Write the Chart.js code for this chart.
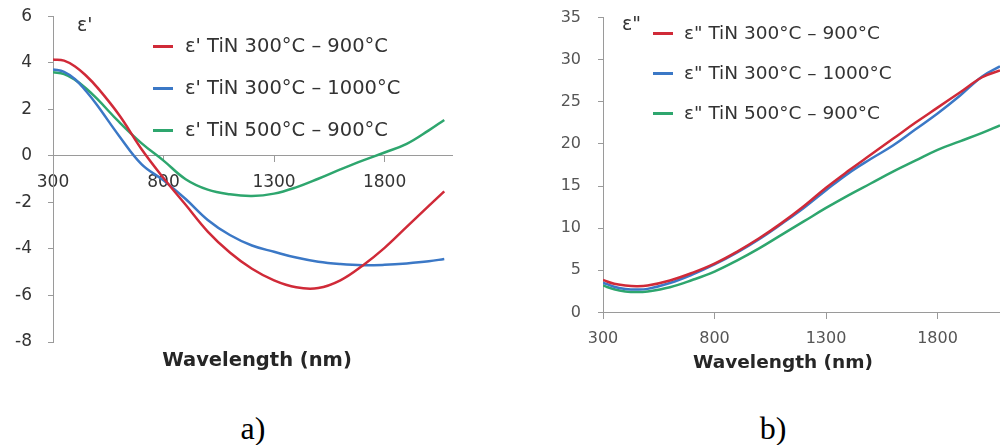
<!DOCTYPE html>
<html>
<head>
<meta charset="utf-8">
<title>TiN permittivity</title>
<script src="https://cdn.jsdelivr.net/npm/chart.js@4.4.0/dist/chart.umd.min.js"></script>
<style>
    html, body { margin: 0; padding: 0; background: #fff; }
    body { width: 1000px; height: 445px; position: relative; overflow: hidden; font-family: 'DejaVu Sans', sans-serif; }
    canvas { position: absolute; top: 0; }
    #chartA { left: 0; }
    #chartB { left: 540px; }
    .label { position: absolute; white-space: nowrap; color: #333; }
    .axis-name { font-size: 19px; line-height: 20px; }
    .x-title { font-weight: bold; line-height: 20px; color: #262626; transform: translateX(-50%); }
    .legend-row { position: absolute; height: 20px; width: 300px; }
    .legend-row .swatch { position: absolute; left: 0; top: 9px; width: 20px; height: 3px; }
    .legend-row .txt { position: absolute; top: 0; line-height: 20px; color: #333; white-space: nowrap; }
    .panel-tag { font-family: 'Liberation Serif', serif; font-size: 32px; line-height: 32px; color: #000; transform: translateX(-50%); }
</style>
</head>
<body>
<canvas id="chartA" width="470" height="370"></canvas>
<canvas id="chartB" width="460" height="370"></canvas>

<div class="label axis-name" style="left:77px; top:14px;">ε'</div>
<div class="label axis-name" style="left:622px; top:13px;">ε"</div>

<div id="legendA"></div>
<div id="legendB"></div>

<div class="label x-title" style="left:257px; top:350px; font-size:19.5px;">Wavelength (nm)</div>
<div class="label x-title" style="left:783px; top:352px; font-size:18.5px;">Wavelength (nm)</div>

<div class="label panel-tag" style="left:253px; top:412px;">a)</div>
<div class="label panel-tag" style="left:773px; top:412px;">b)</div>

<script>
// Data
// a) real part
const wavelengthsA = [300, 350, 400, 450, 500, 600, 700, 800, 900, 1000, 1100, 1200, 1300, 1400, 1500, 1600, 1700, 1800, 1900, 2000, 2070];
const realTiN300_900 = [4.15, 4.1, 3.85, 3.45, 2.95, 1.75, 0.3, -0.95, -2.1, -3.25, -4.15, -4.85, -5.35, -5.65, -5.68, -5.35, -4.72, -3.95, -3.05, -2.15, -1.52];
const realTiN300_1000 = [3.72, 3.62, 3.3, 2.78, 2.18, 0.85, -0.35, -1.05, -1.85, -2.75, -3.4, -3.85, -4.12, -4.37, -4.55, -4.65, -4.7, -4.68, -4.62, -4.53, -4.43];
const realTiN500_900 = [3.6, 3.52, 3.27, 2.9, 2.45, 1.45, 0.55, -0.2, -1.0, -1.45, -1.65, -1.72, -1.62, -1.35, -0.98, -0.58, -0.2, 0.15, 0.52, 1.1, 1.55];

// b) imaginary part
const wavelengthsB = [300, 350, 400, 450, 500, 600, 700, 800, 900, 1000, 1100, 1200, 1300, 1400, 1500, 1600, 1700, 1800, 1900, 2000, 2080];
const imagTiN300_900 = [3.85, 3.4, 3.2, 3.12, 3.2, 3.8, 4.7, 5.8, 7.2, 8.8, 10.6, 12.6, 14.8, 16.8, 18.7, 20.6, 22.5, 24.3, 26.1, 27.9, 28.7];
const imagTiN300_1000 = [3.55, 3.05, 2.8, 2.72, 2.8, 3.5, 4.5, 5.7, 7.1, 8.7, 10.5, 12.4, 14.5, 16.5, 18.2, 19.8, 21.7, 23.6, 25.7, 28.0, 29.2];
const imagTiN500_900 = [3.2, 2.75, 2.5, 2.42, 2.5, 3.0, 3.85, 4.85, 6.15, 7.6, 9.2, 10.8, 12.4, 13.9, 15.3, 16.7, 18.0, 19.3, 20.3, 21.3, 22.2];

// Tick labels
const xTickValues = [300, 800, 1300, 1800];
const yTickValuesA = [-8, -6, -4, -2, 0, 2, 4, 6];
const yTickValuesB = [0, 5, 10, 15, 20, 25, 30, 35];

// Series names
const seriesNamesA = ["ε' TiN 300°C – 900°C", "ε' TiN 300°C – 1000°C", "ε' TiN 500°C – 900°C"];
const seriesNamesB = ['ε" TiN 300°C – 900°C', 'ε" TiN 300°C – 1000°C', 'ε" TiN 500°C – 900°C'];

const seriesColors = ['#d02a38', '#3b78c6', '#2ea66e'];

function toPoints(xs, ys) {
    return xs.map((x, i) => ({ x: x, y: ys[i] }));
}

function makeDatasets(xs, seriesList, names) {
    return seriesList.map((ys, i) => ({
        label: names[i],
        data: toPoints(xs, ys),
        borderColor: seriesColors[i],
        borderWidth: 2.5,
        pointRadius: 0,
        tension: 0.4,
        fill: false
    }));
}

// Excel-like axes: gray axis lines, short outside ticks, no gridlines
function buildOptions(cfg) {
    return {
        responsive: false,
        devicePixelRatio: 1,
        animation: false,
        layout: { padding: cfg.padding },
        plugins: { legend: { display: false }, tooltip: { enabled: false } },
        scales: {
            x: {
                type: 'linear',
                min: 300,
                max: cfg.xMax,
                position: { y: cfg.xCross },
                afterBuildTicks: (scale) => { scale.ticks = xTickValues.map(v => ({ value: v })); },
                grid: { drawOnChartArea: false, drawTicks: true, tickLength: 6, color: '#9a9a9a' },
                border: { color: '#9a9a9a', width: 1 },
                ticks: {
                    autoSkip: false, maxRotation: 0, padding: cfg.xPad, color: cfg.tickColor,
                    font: { family: 'DejaVu Sans', size: cfg.tickSize },
                    callback: (value) => String(value)
                }
            },
            y: {
                type: 'linear',
                min: cfg.yTicks[0],
                max: cfg.yTicks[cfg.yTicks.length - 1],
                afterBuildTicks: (scale) => { scale.ticks = cfg.yTicks.map(v => ({ value: v })); },
                afterFit: (scale) => { scale.width = cfg.yWidth; },
                grid: { drawOnChartArea: false, drawTicks: true, tickLength: 5, color: '#9a9a9a' },
                border: { color: '#9a9a9a', width: 1 },
                ticks: {
                    padding: cfg.yPad, color: cfg.tickColor,
                    // tiny lineHeight so the label height doesn't push the plot area down
                    font: { family: 'DejaVu Sans', size: cfg.tickSize, lineHeight: 0.05 },
                    callback: (value) => String(value)
                }
            }
        }
    };
}

function renderLegend(containerId, names, left, tops, textOffset, fontSize) {
    const box = document.getElementById(containerId);
    names.forEach((name, i) => {
        const row = document.createElement('div');
        row.className = 'legend-row';
        row.style.left = left + 'px';
        row.style.top = tops[i] + 'px';
        row.innerHTML = `<span class="swatch" style="background:${seriesColors[i]}"></span><span class="txt" style="left:${textOffset}px; font-size:${fontSize}px">${name}</span>`;
        box.appendChild(row);
    });
}

new Chart(document.getElementById('chartA'), {
    type: 'line',
    data: { datasets: makeDatasets(wavelengthsA, [realTiN300_900, realTiN300_1000, realTiN500_900], seriesNamesA) },
    options: buildOptions({
        padding: { top: 16, right: 18, bottom: 28, left: 0 },
        xMax: 2105, xCross: 0, xPad: 10,
        yTicks: yTickValuesA, yWidth: 53, yPad: 16,
        tickColor: '#333', tickSize: 17
    })
});

new Chart(document.getElementById('chartB'), {
    type: 'line',
    data: { datasets: makeDatasets(wavelengthsB, [imagTiN300_900, imagTiN300_1000, imagTiN500_900], seriesNamesB) },
    options: buildOptions({
        padding: { top: 16, right: 0, bottom: 57.5, left: 0 },
        xMax: 2080, xCross: 0, xPad: 11,
        yTicks: yTickValuesB, yWidth: 63, yPad: 17,
        tickColor: '#555', tickSize: 16
    })
});

renderLegend('legendA', seriesNamesA, 153, [36, 78, 120], 32, 19.5);
renderLegend('legendB', seriesNamesB, 653, [23, 63, 103], 31, 18.5);
</script>
</body>
</html>
